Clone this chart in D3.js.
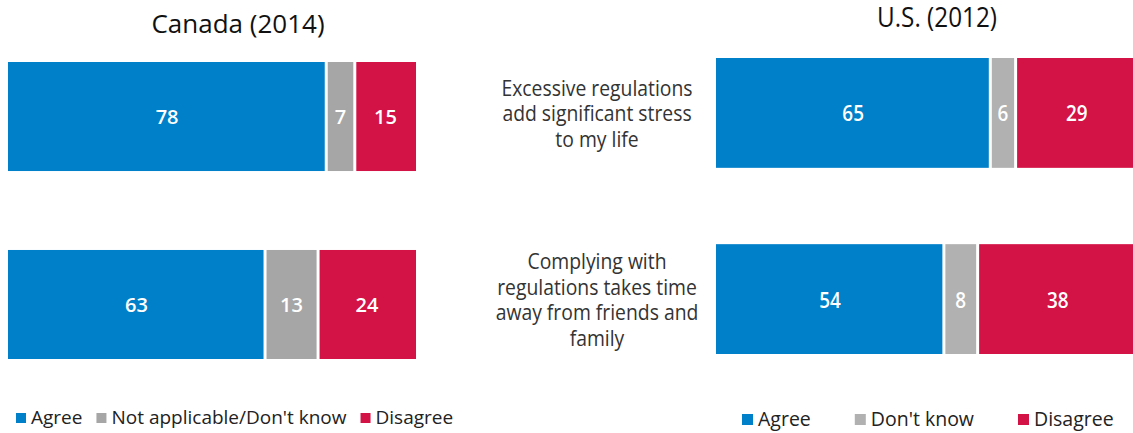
<!DOCTYPE html>
<html>
<head>
<meta charset="utf-8">
<script src="https://cdn.jsdelivr.net/npm/d3@7"></script>
<style>
  html, body { margin: 0; padding: 0; background: #fff; }
  svg { display: block; font-family: "Open Sans", "Noto Sans", sans-serif; }
</style>
</head>
<body>
<svg id="chart" width="1133" height="433"></svg>
<script>
// ---- data ----
const categories = [
  "Excessive regulations add significant stress to my life",
  "Complying with regulations takes time away from friends and family"
];
const categoryLines = [
  ["Excessive regulations", "add significant stress", "to my life"],
  ["Complying with", "regulations takes time", "away from friends and", "family"]
];
const canadaSeries = ["Agree", "Not applicable/Don't know", "Disagree"];
const canadaAgree = [78, 63];
const canadaNA = [7, 13];
const canadaDisagree = [15, 24];

const usSeries = ["Agree", "Don't know", "Disagree"];
const usAgree = [65, 54];
const usDK = [6, 8];
const usDisagree = [29, 38];

const canadaTitle = "Canada (2014)";
const usTitle = "U.S. (2012)";

const blue = "#0080C9", red = "#D31245";
const canadaColors = [blue, "#A6A6A6", red];
const usColors = [blue, "#B1B1B1", red];

// ---- drawing ----
const svg = d3.select("#chart");
const GAP = 1.5;

function panel(opts) {
  const { values, colors, xRange, yRange, pad, sx, labelSize } = opts;
  const x = d3.scaleLinear().domain([0, 100]).range(xRange);
  const y = d3.scaleBand().domain(categories).range(yRange).paddingInner(pad).paddingOuter(0);
  const g = svg.append("g");
  categories.forEach((c, ci) => {
    let acc = 0;
    const segs = values.map((arr, si) => {
      const s = { v: arr[ci], x0: acc, x1: acc + arr[ci], si };
      acc += arr[ci];
      return s;
    });
    const n = segs.length;
    const row = g.append("g");
    row.selectAll("rect").data(segs).join("rect")
      .attr("x", d => x(d.x0) + (d.si > 0 ? GAP : 0))
      .attr("width", d => x(d.x1) - x(d.x0) - (d.si > 0 ? GAP : 0) - (d.si < n - 1 ? GAP : 0))
      .attr("y", y(c))
      .attr("height", y.bandwidth())
      .attr("fill", d => colors[d.si]);
    row.selectAll("text").data(segs).join("text")
      .attr("transform", d => `translate(${(x(d.x0) + x(d.x1)) / 2},${y(c) + y.bandwidth() / 2}) scale(${sx},1)`)
      .attr("text-anchor", "middle")
      .attr("dominant-baseline", "central")
      .attr("fill", "#fff")
      .attr("font-size", labelSize)
      .attr("font-weight", 600)
      .text(d => d.v);
  });
  return { x, y };
}

// Canada
const cp = panel({
  values: [canadaAgree, canadaNA, canadaDisagree],
  colors: canadaColors,
  xRange: [8, 416], yRange: [62, 359], pad: 0.42, sx: 1, labelSize: 20
});
// US
const up = panel({
  values: [usAgree, usDK, usDisagree],
  colors: usColors,
  xRange: [716, 1138], yRange: [58, 354], pad: 0.41, sx: 0.86, labelSize: 22
});

// titles
svg.append("text").attr("x", 238).attr("y", 33).attr("text-anchor", "middle")
  .attr("font-size", 26).attr("fill", "#111").text(canadaTitle);
svg.append("text").attr("transform", "translate(937,27) scale(0.9,1)").attr("text-anchor", "middle")
  .attr("font-size", 27).attr("fill", "#111").text(usTitle);

// category labels (US side)
const lh = 25.5;
categories.forEach((c, ci) => {
  const lines = categoryLines[ci];
  const cy = up.y(c) + up.y.bandwidth() / 2;
  const t = svg.append("g");
  lines.forEach((ln, li) => {
    t.append("text")
      .attr("transform", `translate(597,${cy + (li - (lines.length - 1) / 2) * lh}) scale(0.9,1)`)
      .attr("text-anchor", "middle")
      .attr("dominant-baseline", "central")
      .attr("font-size", 21.5)
      .attr("fill", "#333")
      .text(ln);
  });
});

// legends
function legend(series, colors, x0, baseline, gap, fs, sq) {
  let xx = x0;
  series.forEach((s, i) => {
    svg.append("rect").attr("x", xx).attr("y", baseline - sq - 1).attr("width", sq).attr("height", sq)
      .attr("fill", colors[i]);
    const t = svg.append("text").attr("x", xx + sq + 5).attr("y", baseline)
      .attr("font-size", fs).attr("fill", "#222").text(s);
    xx = xx + sq + 5 + t.node().getComputedTextLength() + gap;
  });
}
legend(canadaSeries, canadaColors, 16, 424, 14, 19, 10);
legend(usSeries, usColors, 742, 426, 44, 19.5, 11);
</script>
</body>
</html>
